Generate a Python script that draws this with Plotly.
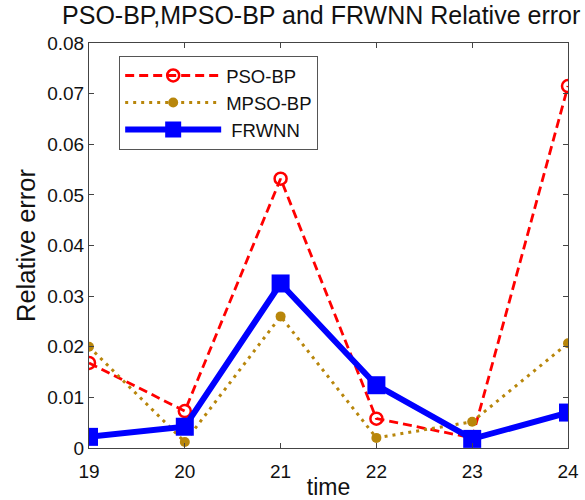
import plotly.graph_objects as go

time = [19, 20, 21, 22, 23, 24]
pso_bp = [0.0168, 0.0073, 0.0532, 0.0058, 0.0020, 0.0715]
mpso_bp = [0.0200, 0.0012, 0.0260, 0.0020, 0.0052, 0.0207]
frwnn = [0.0022, 0.0042, 0.0325, 0.0124, 0.0018, 0.0070]
y_ticks = [0, 0.01, 0.02, 0.03, 0.04, 0.05, 0.06, 0.07, 0.08]
y_labels = ["0", "0.01", "0.02", "0.03", "0.04", "0.05", "0.06", "0.07", "0.08"]
x_ticks = [19, 20, 21, 22, 23, 24]

font = "Liberation Sans, Arial, sans-serif"

fig = go.Figure()
fig.add_trace(go.Scatter(
    x=time, y=pso_bp, name="PSO-BP", mode="lines+markers", legendgroup="a",
    line=dict(color="#ff0000", width=2.8, dash="9px,5px"),
    marker=dict(symbol="circle-open", size=12, color="#ff0000", line=dict(width=2.5)),
))
fig.add_trace(go.Scatter(
    x=time, y=mpso_bp, name="MPSO-BP", mode="lines+markers", legendgroup="b",
    line=dict(color="#b8860b", width=3, dash="3px,5px"),
    marker=dict(symbol="circle", size=10, color="#b8860b"),
))
fig.add_trace(go.Scatter(
    x=time, y=frwnn, name=" FRWNN", mode="lines+markers", legendgroup="c",
    line=dict(color="#0000ff", width=6),
    marker=dict(symbol="square", size=18, color="#0000ff"),
))

fig.update_layout(
    width=585, height=500,
    paper_bgcolor="white", plot_bgcolor="white",
    margin=dict(l=89, r=17, t=43, b=52),
    font=dict(family=font, size=19, color="#111111"),
    title=dict(text="PSO-BP,MPSO-BP and FRWNN Relative error", x=0.549, xanchor="center",
               y=0.969, yanchor="middle", font=dict(size=25, family=font, color="#111111")),
    legend=dict(x=0.063, y=0.968, xanchor="left", yanchor="top",
                bordercolor="#555555", borderwidth=1, bgcolor="white",
                itemwidth=96, font=dict(size=18.5, family=font),
                traceorder="grouped", tracegroupgap=0),
    showlegend=True,
)
fig.update_xaxes(
    range=[19, 24], tickvals=x_ticks, ticks="inside", ticklen=5, automargin=False,
    showline=True, linecolor="#444444", linewidth=1, mirror="ticks",
    showgrid=False, zeroline=False, ticklabelstandoff=6,
    title=dict(text="time", font=dict(size=23, family=font), standoff=0),
    tickfont=dict(size=19, family=font),
)
fig.update_yaxes(
    range=[0, 0.08], tickvals=y_ticks, ticktext=y_labels, ticks="inside", ticklen=5, automargin=False,
    showline=True, linecolor="#444444", linewidth=1, mirror="ticks",
    showgrid=False, zeroline=False,
    title=dict(text="Relative error", font=dict(size=25.5, family=font), standoff=4),
    tickfont=dict(size=19, family=font),
)

fig.write_html("out.html", config={"displayModeBar": False},
               post_script="document.body.style.margin='0';document.body.style.padding='0';")
